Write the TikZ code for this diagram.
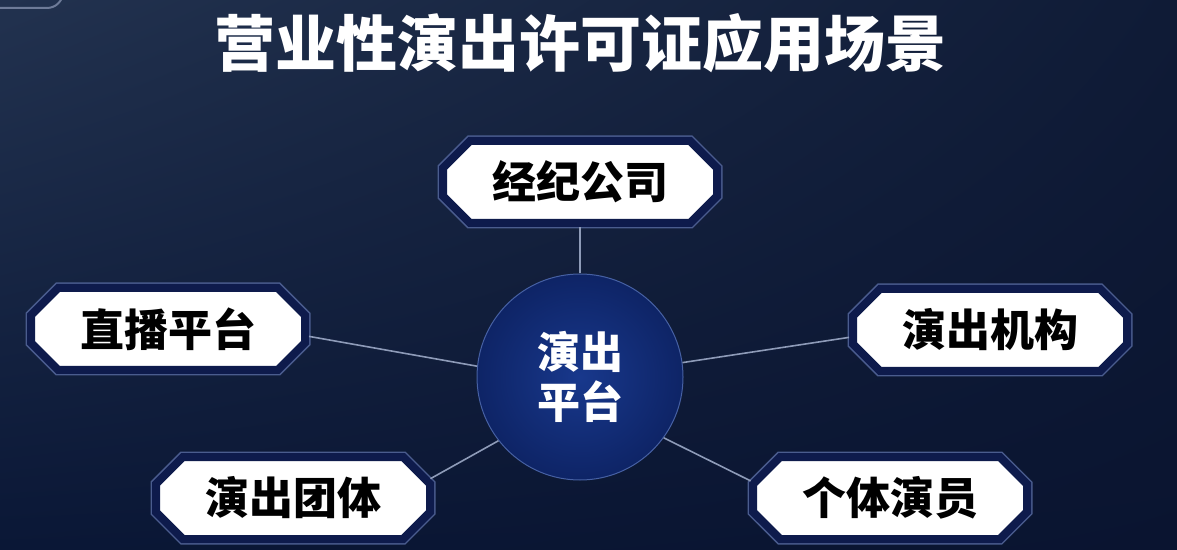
\documentclass[tikz,border=0pt]{standalone}
\usepackage{fontspec}
\newfontfamily\cjk{Noto Sans CJK SC}
\usetikzlibrary{shapes.misc,shadings}
\definecolor{bgtl}{HTML}{22324F}
\definecolor{bgtr}{HTML}{0F1B36}
\definecolor{bgbl}{HTML}{0A1736}
\definecolor{bgbr}{HTML}{0A1430}
\definecolor{navyband}{HTML}{0E1B4C}
\definecolor{rimedge}{HTML}{4A5C8E}
\definecolor{hubin}{HTML}{18388C}
\definecolor{hubout}{HTML}{0E2466}
\definecolor{spoke}{HTML}{8E9BB8}
\tikzset{
  scenebox/.style={chamfered rectangle,chamfered rectangle xsep=11pt,
    minimum width=137pt,minimum height=41pt,inner sep=0pt,
    fill=white,draw=navyband,line width=4pt,
    preaction={draw=rimedge,line width=5.5pt},
    font=\cjk\bfseries\fontsize{22pt}{24pt}\selectfont,text=black},
  hub/.style={circle,minimum size=103pt,inner sep=0pt,
    inner color=hubin,outer color=hubout,draw=hubin!80!white,line width=0.5pt,
    align=center,text=white,font=\cjk\bfseries\fontsize{21.5pt}{25pt}\selectfont},
  spokeline/.style={draw=spoke,line width=0.8pt}
}
\begin{document}
\begin{tikzpicture}[x=0.5pt,y=-0.5pt]
  \clip (0,0) rectangle (1177,550);
  \shade[upper left=bgtl,upper right=bgtr,lower left=bgbl,lower right=bgbr] (0,0) rectangle (1177,550);
  \draw[spoke!70!bgtl,line width=1pt,rounded corners=8pt] (-40,-40) rectangle (63,8);
  % title
  \node[text=white,font=\cjk\bfseries\fontsize{30.5pt}{32pt}\selectfont] (title) at (580,43) {营业性演出许可证应用场景};
  % center and scenes
  \node[hub] (platform) at (580,377) {演出\\平台};
  \node[scenebox] (agency) at (580,182) {经纪公司};
  \node[scenebox] (live) at (168,329) {直播平台};
  \node[scenebox] (org) at (990,330) {演出机构};
  \node[scenebox] (troupe) at (293,498) {演出团体};
  \node[scenebox] (actor) at (890,498) {个体演员};
  % spokes
  \draw[spokeline] (platform.north) -- (agency.south);
  \draw[spokeline] (platform.174) -- (live.-3);
  \draw[spokeline] (platform.8) -- (org.183);
  \draw[spokeline] (platform.218) -- (troupe.8);
  \draw[spokeline] (platform.324) -- (actor.173);
\end{tikzpicture}
\end{document}
